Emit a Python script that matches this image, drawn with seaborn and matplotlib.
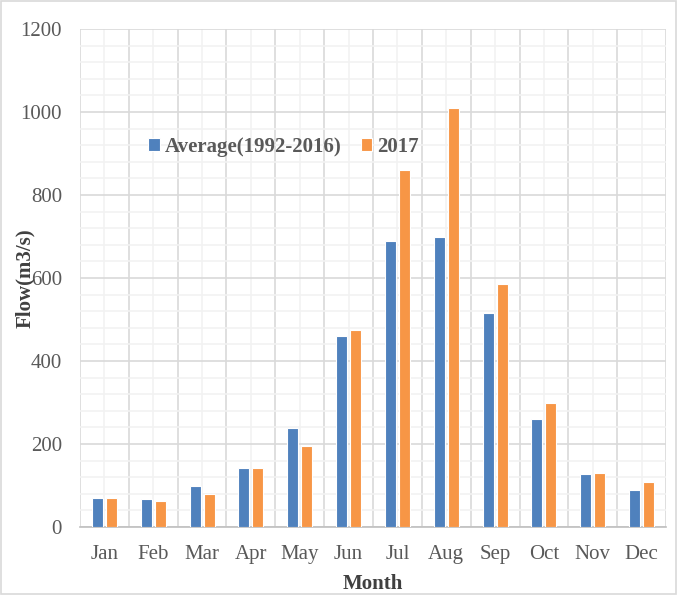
import numpy as np
import pandas as pd
import matplotlib
matplotlib.use('Agg')
import matplotlib.pyplot as plt
import seaborn as sns
from matplotlib.ticker import MultipleLocator
from matplotlib.patches import Rectangle

# data
months = ['Jan', 'Feb', 'Mar', 'Apr', 'May', 'Jun', 'Jul', 'Aug', 'Sep', 'Oct', 'Nov', 'Dec']
avg_flow = [70, 67, 99, 141, 238, 460, 690, 700, 515, 260, 127, 88]
flow_2017 = [71, 62, 79, 141, 196, 475, 860, 1010, 585, 299, 130, 108]
series_names = ['Average(1992-2016)', '2017']

df = pd.DataFrame({'Month': months * 2,
                   'Flow': avg_flow + flow_2017,
                   'Series': [series_names[0]] * 12 + [series_names[1]] * 12})

sns.set_style('white')
plt.rcParams['font.family'] = ['Liberation Serif', 'DejaVu Serif']

fig, ax = plt.subplots(figsize=(6.77, 5.95), dpi=100)
fig.subplots_adjust(left=80 / 677, right=666 / 677, top=1 - 29 / 595, bottom=1 - 527 / 595)

sns.barplot(data=df, x='Month', y='Flow', hue='Series', ax=ax,
            palette=['#4F81BD', '#F79646'], saturation=1, width=0.57, gap=0.21,
            edgecolor='white', linewidth=0.8, zorder=3)

ax.set_xlim(-0.5, 11.5)
ax.set_ylim(0, 1200)
ax.set_yticks(np.arange(0, 1201, 200))
ax.yaxis.set_minor_locator(MultipleLocator(40))
ax.set_xticks(np.arange(12))
ax.set_xticks(np.arange(-0.5, 12, 1), minor=True)

ax.grid(which='major', axis='y', color='#D9D9D9', linewidth=1.2, zorder=1)
ax.grid(which='minor', axis='y', color='#F2F2F2', linewidth=1.2, zorder=0)
ax.grid(which='minor', axis='x', color='#D9D9D9', linewidth=1.2, zorder=1)
ax.grid(which='major', axis='x', color='#F2F2F2', linewidth=1.2, zorder=0)
ax.set_axisbelow(True)

for s in ['top', 'right', 'left']:
    ax.spines[s].set_visible(False)
ax.spines['bottom'].set_color('#BFBFBF')
ax.spines['bottom'].set_linewidth(1.2)

ax.tick_params(axis='both', which='both', length=0, labelsize=15, labelcolor='#595959')
ax.tick_params(axis='y', pad=13)
ax.tick_params(axis='x', pad=13)

ax.set_xlabel('Month', fontsize=15, fontweight='bold', color='#404040', labelpad=7)
ax.set_ylabel('Flow(m3/s)', fontsize=15, fontweight='bold', color='#404040')
ax.yaxis.set_label_coords(35 / 677, 1 - 278 / 595, transform=fig.transFigure)

ax.legend(title=None, loc='center left', bbox_to_anchor=(138 / 677, 1 - 147 / 595),
          bbox_transform=fig.transFigure, ncol=2, frameon=False,
          prop={'weight': 'bold', 'size': 15}, labelcolor='#595959',
          handlelength=0.55, handleheight=0.6, handletextpad=0.25,
          columnspacing=0.9, borderpad=0)

fig.add_artist(Rectangle((0.002, 0.002), 0.996, 0.996, transform=fig.transFigure,
                         fill=False, edgecolor='#D9D9D9', linewidth=1.2))

fig.savefig('out.png', dpi=100)
